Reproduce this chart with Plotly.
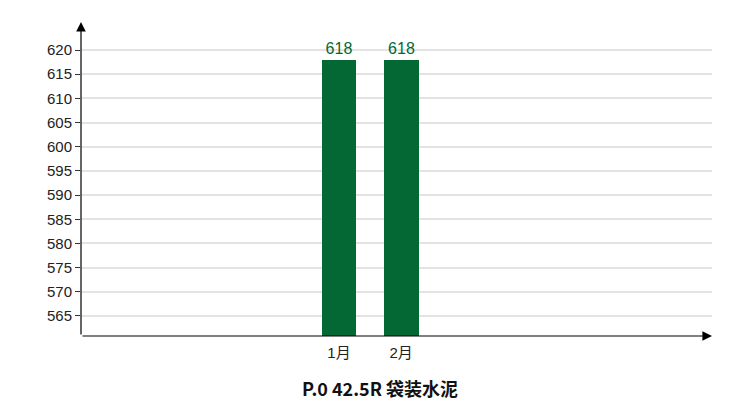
# monthly price bar chart for P.0 42.5R bagged cement
import plotly.graph_objects as go

months = ["1月", "2月"]
prices = [618, 618]
y_ticks = [565, 570, 575, 580, 585, 590, 595, 600, 605, 610, 615, 620]
chart_title = "P.0 42.5R 袋装水泥"

BAR_GREEN = "#046835"
FONT = "Liberation Sans, Noto Sans CJK SC, sans-serif"

fig = go.Figure()
fig.add_trace(
    go.Bar(
        x=list(range(len(months))),
        y=prices,
        width=0.56,
        marker=dict(color=BAR_GREEN, line=dict(width=0)),
        text=[str(p) for p in prices],
        textposition="outside",
        textfont=dict(color=BAR_GREEN, size=16, family=FONT),
        cliponaxis=False,
    )
)

# axes with arrow heads
fig.add_annotation(
    xref="x domain", yref="y domain", x=0, y=1.0,
    axref="x domain", ayref="y domain", ax=0, ay=0,
    showarrow=True, arrowhead=2, arrowsize=1.6, arrowwidth=1.2,
    arrowcolor="#000000", text="",
)
fig.add_annotation(
    xref="x domain", yref="y domain", x=1.0, y=0,
    axref="x domain", ayref="y domain", ax=0, ay=0,
    showarrow=True, arrowhead=2, arrowsize=1.6, arrowwidth=1.2,
    arrowcolor="#000000", text="",
)

fig.add_annotation(
    xref="paper", yref="paper", x=0.474, y=-0.165, yanchor="middle",
    text="<b>" + chart_title + "</b>", showarrow=False,
    font=dict(size=18, color="#111111", family="Noto Sans CJK SC, sans-serif"),
)

# the page body adds an 8px offset, so margins are shifted to match
fig.update_layout(
    width=750,
    height=415,
    margin=dict(l=73, r=46, t=14, b=87),
    plot_bgcolor="white",
    paper_bgcolor="white",
    showlegend=False,
    bargap=0,
    font=dict(family=FONT, size=15, color="#222222"),
)
fig.update_xaxes(
    range=[-4.15, 6.0],
    tickvals=list(range(len(months))),
    ticktext=months,
    showgrid=False,
    zeroline=False,
    showline=False,
    ticks="",
    ticklabelstandoff=6,
    tickfont=dict(size=15, color="#222222"),
)
fig.update_yaxes(
    range=[560.86, 625.8],
    tickvals=y_ticks,
    showgrid=True,
    gridcolor="#e3e3e3",
    gridwidth=1.5,
    zeroline=False,
    showline=False,
    ticks="outside",
    ticklen=5,
    tickcolor="#333333",
    tickfont=dict(size=15, color="#222222"),
)

fig.write_html("out.html")
